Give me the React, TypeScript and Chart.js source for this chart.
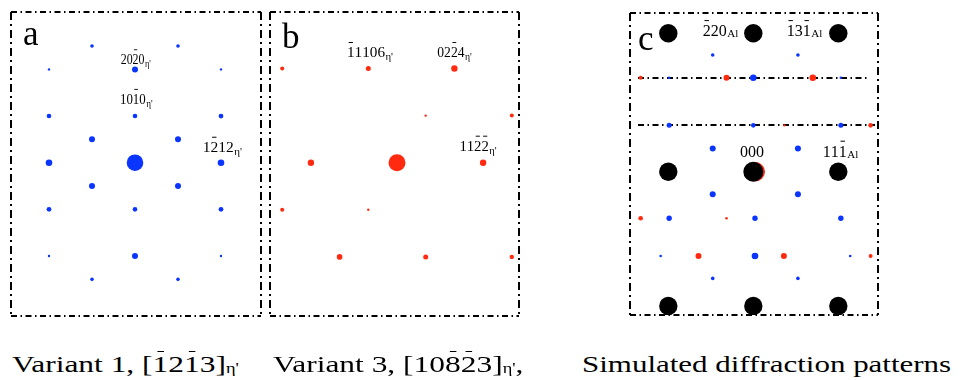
import React, { useEffect, useRef } from "react";
import { Chart, registerables } from "chart.js";
Chart.register(...registerables);

const BLUE = "#0a34ff";
const RED = "#ff2a10";
const BLACK = "#000000";
const FONT = '"Liberation Serif", "Times New Roman", serif';

// ---------- Panel a : Variant 1 (blue) ----------
const A_X = [-1, 1, -2, 0, 2, -2, 0, 2, -1, 1, -2, 0, 2, -1, 1, -2, 0, 2, -2, 0, 2, -1, 1];
const A_Y = [5, 5, 4, 4, 4, 2, 2, 2, 1, 1, 0, 0, 0, -1, -1, -2, -2, -2, -4, -4, -4, -5, -5];
const A_R = [1.8, 1.8, 1.2, 3, 1.2, 2.3, 2.3, 2.4, 3, 3, 3.3, 8.3, 3.3, 3, 3, 2.4, 2.3, 2.4, 1.2, 3, 1.2, 1.8, 1.8];
const A_LAB_TEXT = ["2020", "1010", "1212"];
const A_LAB_BARS = [[2], [2], [1]];
const A_LAB_X = [-0.333, -0.349, 1.574];
const A_LAB_Y = [4.22, 2.52, 0.47];

// ---------- Panel b : Variant 3 (red) ----------
const B_X = [-4, -1, 2, 1, 4, -3, 0, 3, -4, -1, -2, 1, 4];
const B_Y = [2, 2, 2, 1, 1, 0, 0, 0, -1, -1, -2, -2, -2];
const B_R = [2, 2.5, 3.2, 1.2, 2, 3.2, 8.5, 3.2, 2, 1.2, 2.8, 2.5, 2.2];
const B_LAB_TEXT = ["11106", "0224", "1122"];
const B_LAB_BARS = [[0], [2], [2, 3]];
const B_LAB_X = [-1.742, 1.404, 2.174];
const B_LAB_Y = [2.244, 2.244, 0.255];

// ---------- Panel c : simulated (Al black, variant 1 blue, variant 3 red) ----------
const C_AL_X = [-2, 0, 2, -2, 0, 2, -2, 0, 2];
const C_AL_Y = [5.94, 5.94, 5.94, 0, 0, 0, -5.76, -5.76, -5.76];
const C_AL_R = [9.2, 9.2, 9.2, 9.2, 10, 9.2, 9.2, 9.2, 9.2];
const C_V1_X = [-0.955, 1.05, -1.98, 0, 2.06, -1.98, 0, 2.06, -0.955, 1.05, -0.955, 1.05, -1.98, 0.04, 2.06, -2.18, 0.04, 2.28, -0.955, 1.05];
const C_V1_Y = [5.01, 5.01, 4.03, 4.03, 4.03, 1.99, 1.99, 1.99, 1.0, 1.0, -0.97, -0.97, -2.0, -2.0, -2.0, -3.62, -3.62, -3.62, -4.58, -4.58];
const C_V1_R = [1.8, 1.8, 1.3, 3.3, 1.3, 2.5, 2.3, 2.5, 3, 3, 3, 3, 2.7, 2.7, 2.7, 1.3, 3.3, 1.3, 1.8, 1.8];
const C_V3_X = [-2.65, -0.63, 1.4, 0.73, 2.76, 0.05, -2.65, -0.63, -1.29, 0.72, 2.76];
const C_V3_Y = [4.03, 4.03, 4.03, 1.99, 1.99, 0, -2.0, -2.0, -3.62, -3.62, -3.62];
const C_V3_R = [2, 3, 3.3, 1.2, 2.3, 9.6, 2.3, 1.3, 3, 3, 2];
const C_LINE_Y = [4.03, 1.99];
const C_LAB_TEXT = ["220", "131", "000", "111"];
const C_LAB_BARS = [[0], [0, 2], [], [2]];
const C_LAB_SUB = ["Al", "Al", "", "Al"];
const C_LAB_X = [-1.19, 0.786, -0.313, 1.633];
const C_LAB_Y = [5.82, 5.82, 0.644, 0.644];

const PAD = 12;

type LabelSpec = { x: number; y: number; text: string; bars: number[]; sub: string; size: number; sx: number; subSize: number; subDy: number };
type PanelSpec = {
  box: [number, number, number, number];
  center: [number, number];
  unit: [number, number];
  datasets: { xs: number[]; ys: number[]; rs: number[]; color: string }[];
  labels: LabelSpec[];
  letter: string;
  letterPos: [number, number];
  hLines: number[];
  hLineInset: number[];
};

function points(xs: number[], ys: number[], rs: number[]) {
  return xs.map((x, i) => ({ x, y: ys[i], r: rs[i] }));
}

function drawMiller(ctx: CanvasRenderingContext2D, l: LabelSpec, px: number, py: number) {
  ctx.save();
  ctx.translate(px, py);
  ctx.scale(l.sx, 1);
  ctx.fillStyle = "#000";
  ctx.strokeStyle = "#000";
  ctx.font = `${l.size}px ${FONT}`;
  ctx.textBaseline = "alphabetic";
  ctx.textAlign = "left";
  let cx = 0;
  for (let i = 0; i < l.text.length; i++) {
    const ch = l.text[i];
    const w = ctx.measureText(ch).width;
    ctx.fillText(ch, cx, 0);
    if (l.bars.includes(i)) {
      ctx.lineWidth = 1;
      ctx.beginPath();
      const by = Math.round(-l.size * 0.98) + 0.5;
      ctx.moveTo(cx + w * 0.22, by);
      ctx.lineTo(cx + w * 0.78, by);
      ctx.stroke();
    }
    cx += w;
  }
  if (l.sub) {
    ctx.font = `${l.subSize}px ${FONT}`;
    ctx.fillText(l.sub, cx + 0.5, l.subDy);
  }
  ctx.restore();
}

function dashLine(ctx: CanvasRenderingContext2D, x1: number, y1: number, x2: number, y2: number, dash: number[]) {
  ctx.setLineDash(dash);
  ctx.beginPath();
  ctx.moveTo(x1, y1);
  ctx.lineTo(x2, y2);
  ctx.stroke();
}

function makeOverlay(spec: PanelSpec) {
  return {
    id: "overlay",
    beforeDatasetsDraw(chart: any) {
      const ctx: CanvasRenderingContext2D = chart.ctx;
      const a = chart.chartArea;
      ctx.save();
      ctx.strokeStyle = "#000";
      ctx.lineWidth = 2;
      spec.hLines.forEach((v, i) => {
        const y = Math.round(chart.scales.y.getPixelForValue(v));
        dashLine(ctx, a.left + 8, y, a.right - spec.hLineInset[i], y, [6, 3.5, 1.5, 3.5]);
      });
      ctx.restore();
    },
    afterDatasetsDraw(chart: any) {
      const ctx: CanvasRenderingContext2D = chart.ctx;
      const a = chart.chartArea;
      ctx.save();
      ctx.strokeStyle = "#000";
      ctx.lineWidth = 2;
      const L = Math.round(a.left), R = Math.round(a.right), T = Math.round(a.top), B = Math.round(a.bottom);
      dashLine(ctx, L, T, R, T, [6, 3.5, 1.5, 3.5]);
      dashLine(ctx, L, B, R, B, [6, 3.5, 1.5, 3.5]);
      dashLine(ctx, L, T, L, B, [8, 4, 2, 4]);
      dashLine(ctx, R, T, R, B, [8, 4, 2, 4]);
      ctx.setLineDash([]);
      ctx.fillStyle = "#000";
      ctx.font = `35px ${FONT}`;
      ctx.textBaseline = "alphabetic";
      ctx.textAlign = "left";
      ctx.fillText(spec.letter, a.left + spec.letterPos[0], a.top + spec.letterPos[1]);
      ctx.restore();
      spec.labels.forEach((l) => {
        drawMiller(ctx, l, chart.scales.x.getPixelForValue(l.x), chart.scales.y.getPixelForValue(l.y));
      });
    },
  };
}

function Panel({ spec }: { spec: PanelSpec }) {
  const ref = useRef<HTMLCanvasElement | null>(null);
  useEffect(() => {
    if (!ref.current) return;
    const [l, t, w, h] = spec.box;
    const [cx, cy] = spec.center;
    const [ux, uy] = spec.unit;
    const chart = new Chart(ref.current, {
      type: "bubble",
      data: {
        datasets: spec.datasets.map((d) => ({
          data: points(d.xs, d.ys, d.rs),
          backgroundColor: d.color,
          borderWidth: 0,
          hoverRadius: 0,
          clip: false as any,
        })),
      },
      options: {
        responsive: false,
        animation: false,
        events: [],
        layout: { padding: PAD },
        plugins: { legend: { display: false }, tooltip: { enabled: false } },
        scales: {
          x: { type: "linear", display: false, min: (l - cx) / ux, max: (l + w - cx) / ux },
          y: { type: "linear", display: false, min: (cy - (t + h)) / uy, max: (cy - t) / uy },
        },
      } as any,
      plugins: [makeOverlay(spec) as any],
    });
    return () => chart.destroy();
  }, [spec]);
  const [l, t, w, h] = spec.box;
  return (
    <canvas
      ref={ref}
      width={w + 2 * PAD}
      height={h + 2 * PAD}
      style={{ position: "absolute", left: l - PAD, top: t - PAD, width: w + 2 * PAD, height: h + 2 * PAD }}
    />
  );
}

function labels(texts: string[], bars: number[][], xs: number[], ys: number[], subs: string[], size: number, sxs: number[], subSize: number, subDy: number): LabelSpec[] {
  return texts.map((text, i) => ({ text, bars: bars[i], x: xs[i], y: ys[i], sub: subs[i], size, sx: sxs[i], subSize, subDy }));
}

const SPEC_A: PanelSpec = {
  box: [11, 12, 250, 304],
  center: [135, 162.7],
  unit: [43, 23.33],
  datasets: [{ xs: A_X, ys: A_Y, rs: A_R, color: BLUE }],
  labels: labels(A_LAB_TEXT, A_LAB_BARS, A_LAB_X, A_LAB_Y, ["η'", "η'", "η'"], 15.5, [0.77, 0.83, 1.0], 11, 3),
  letter: "a",
  letterPos: [12, 33],
  hLines: [],
  hLineInset: [],
};

const SPEC_B: PanelSpec = {
  box: [270, 12, 249, 304],
  center: [397, 162.7],
  unit: [28.7, 47.1],
  datasets: [{ xs: B_X, ys: B_Y, rs: B_R, color: RED }],
  labels: labels(B_LAB_TEXT, B_LAB_BARS, B_LAB_X, B_LAB_Y, ["η'", "η'", "η'"], 15.5, [0.98, 0.88, 0.95], 11, 3),
  letter: "b",
  letterPos: [12, 36],
  hLines: [],
  hLineInset: [],
};

const SPEC_C: PanelSpec = {
  box: [630, 13, 248, 302],
  center: [753.3, 171.7],
  unit: [42.5, 23.3],
  datasets: [
    { xs: C_AL_X, ys: C_AL_Y, rs: C_AL_R, color: BLACK },
    { xs: C_V1_X, ys: C_V1_Y, rs: C_V1_R, color: BLUE },
    { xs: C_V3_X, ys: C_V3_Y, rs: C_V3_R, color: RED },
  ],
  labels: labels(C_LAB_TEXT, C_LAB_BARS, C_LAB_X, C_LAB_Y, C_LAB_SUB, 16, [1, 1, 1, 1], 11, 1),
  letter: "c",
  letterPos: [8, 37],
  hLines: C_LINE_Y,
  hLineInset: [8, 3],
};

const SUB: React.CSSProperties = { fontSize: 14, position: "relative", top: 1 };

function Bar({ children }: { children: React.ReactNode }) {
  return (
    <span style={{ position: "relative" }}>
      {children}
      <span style={{ position: "absolute", left: "30%", width: "40%", top: 0, height: 1.2, background: "#000" }} />
    </span>
  );
}

function Caption({ left, scale, children }: { left: number; scale: number; children: React.ReactNode }) {
  return (
    <div
      style={{
        position: "absolute",
        left,
        top: 352,
        fontFamily: FONT,
        fontSize: 24,
        lineHeight: "24px",
        whiteSpace: "nowrap",
        color: "#000",
        transform: `scaleX(${scale})`,
        transformOrigin: "0 0",
      }}
    >
      {children}
    </div>
  );
}

export default function App() {
  return (
    <div style={{ position: "absolute", left: 0, top: 0, width: 960, height: 380, background: "#fff", overflow: "hidden" }}>
      <Panel spec={SPEC_A} />
      <Panel spec={SPEC_B} />
      <Panel spec={SPEC_C} />
      <Caption left={12} scale={1.31}>
        Variant 1, [<Bar>1</Bar>2<Bar>1</Bar>3]<span style={SUB}>η'</span>
      </Caption>
      <Caption left={273} scale={1.31}>
        Variant 3, [10<Bar>8</Bar><Bar>2</Bar>3]<span style={SUB}>η'</span>,
      </Caption>
      <Caption left={582} scale={1.29}>
        Simulated diffraction patterns
      </Caption>
    </div>
  );
}
